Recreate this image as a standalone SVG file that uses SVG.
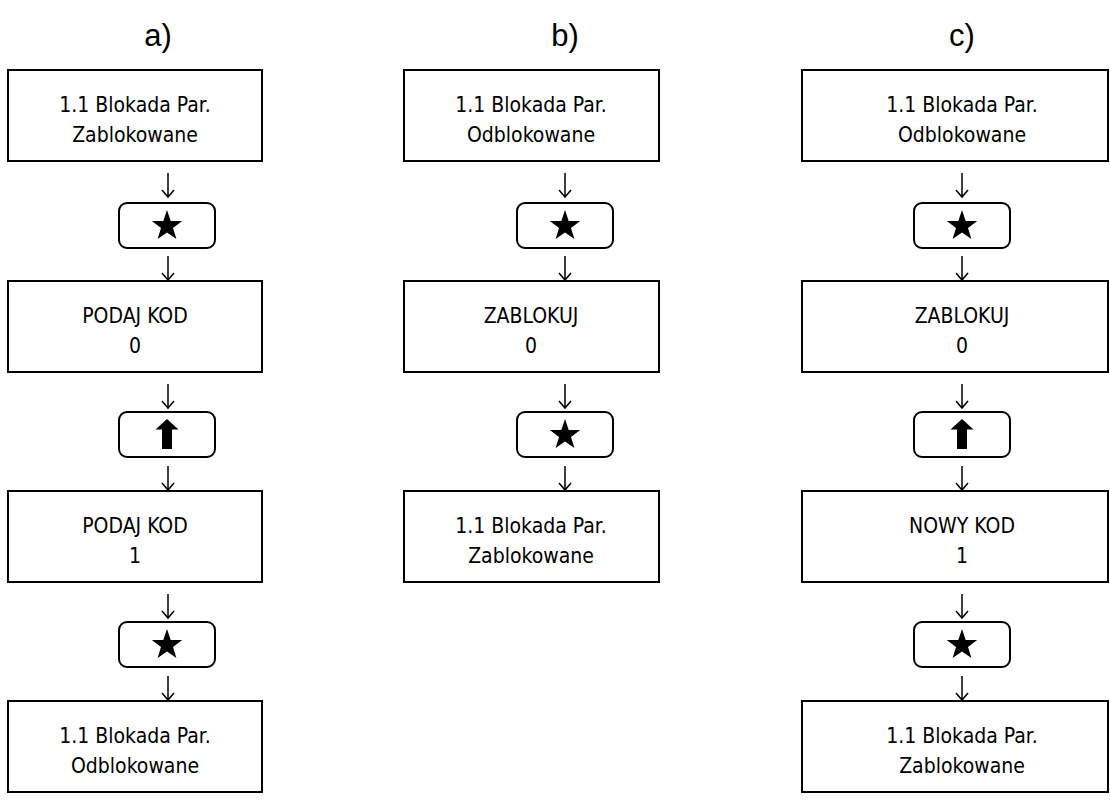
<svg xmlns="http://www.w3.org/2000/svg" width="1110" height="805" viewBox="0 0 1110 805">
<style>
.box{fill:#fff;stroke:#000;stroke-width:2}
.btn{fill:#fff;stroke:#000;stroke-width:2}
.t{font-family:"DejaVu Sans Condensed","DejaVu Sans",sans-serif;font-size:21px;text-anchor:middle;fill:#000}
.lab{font-family:"Liberation Sans",Arial,sans-serif;font-size:31px;text-anchor:middle;fill:#000}
.arr{fill:none;stroke:#000;stroke-width:1.5}
</style>
<defs>
<path id="star" d="M0,-16 L3.7,-5.1 L15.2,-4.9 L6,2 L9.4,13 L0,6.4 L-9.4,13 L-6,2 L-15.2,-4.9 L-3.7,-5.1 Z" fill="#000"/>
<path id="up" d="M0,-15 L11.5,-4.5 L5,-4.5 L5,15 L-5,15 L-5,-4.5 L-11.5,-4.5 Z" fill="#000"/>
<g id="dn"><path class="arr" d="M0,0 V24 M-6,17 L0,24 L6,17"/></g>
</defs>
<text class="lab" x="158" y="46">a)</text>
<text class="lab" x="565" y="46">b)</text>
<text class="lab" x="962" y="46">c)</text>

<g id="connectors">
<use href="#dn" x="168" y="173"/><use href="#dn" x="168" y="256"/>
<use href="#dn" x="168" y="384"/><use href="#dn" x="168" y="466"/>
<use href="#dn" x="168" y="594"/><use href="#dn" x="168" y="676"/>
<use href="#dn" x="565" y="173"/><use href="#dn" x="565" y="256"/>
<use href="#dn" x="565" y="384"/><use href="#dn" x="565" y="466"/>
<use href="#dn" x="962" y="173"/><use href="#dn" x="962" y="256"/>
<use href="#dn" x="962" y="384"/><use href="#dn" x="962" y="466"/>
<use href="#dn" x="962" y="594"/><use href="#dn" x="962" y="676"/>
</g>

<g id="a1"><rect class="box" x="8" y="70" width="254" height="91"/><text class="t" x="135" y="112">1.1 Blokada Par.</text><text class="t" x="135" y="142">Zablokowane</text></g>
<g id="a-k1"><rect class="btn" x="119" y="203" width="96" height="45" rx="8"/><use href="#star" x="167" y="226"/></g>
<g id="a2"><rect class="box" x="8" y="281" width="254" height="91"/><text class="t" x="135" y="323">PODAJ KOD</text><text class="t" x="135" y="353">0</text></g>
<g id="a-k2"><rect class="btn" x="119" y="412" width="96" height="45" rx="8"/><use href="#up" x="167" y="434"/></g>
<g id="a3"><rect class="box" x="8" y="491" width="254" height="91"/><text class="t" x="135" y="533">PODAJ KOD</text><text class="t" x="135" y="563">1</text></g>
<g id="a-k3"><rect class="btn" x="119" y="622" width="96" height="45" rx="8"/><use href="#star" x="167" y="645"/></g>
<g id="a4"><rect class="box" x="8" y="701" width="254" height="91"/><text class="t" x="135" y="743">1.1 Blokada Par.</text><text class="t" x="135" y="773">Odblokowane</text></g>

<g id="b1"><rect class="box" x="404" y="70" width="255" height="91"/><text class="t" x="531" y="112">1.1 Blokada Par.</text><text class="t" x="531" y="142">Odblokowane</text></g>
<g id="b-k1"><rect class="btn" x="517" y="203" width="96" height="45" rx="8"/><use href="#star" x="565" y="226"/></g>
<g id="b2"><rect class="box" x="404" y="281" width="255" height="91"/><text class="t" x="531" y="323">ZABLOKUJ</text><text class="t" x="531" y="353">0</text></g>
<g id="b-k2"><rect class="btn" x="517" y="412" width="96" height="45" rx="8"/><use href="#star" x="565" y="435"/></g>
<g id="b3"><rect class="box" x="404" y="491" width="255" height="91"/><text class="t" x="531" y="533">1.1 Blokada Par.</text><text class="t" x="531" y="563">Zablokowane</text></g>

<g id="c1"><rect class="box" x="802" y="70" width="306" height="91"/><text class="t" x="962" y="112">1.1 Blokada Par.</text><text class="t" x="962" y="142">Odblokowane</text></g>
<g id="c-k1"><rect class="btn" x="914" y="203" width="96" height="45" rx="8"/><use href="#star" x="962" y="226"/></g>
<g id="c2"><rect class="box" x="802" y="281" width="306" height="91"/><text class="t" x="962" y="323">ZABLOKUJ</text><text class="t" x="962" y="353">0</text></g>
<g id="c-k2"><rect class="btn" x="914" y="412" width="96" height="45" rx="8"/><use href="#up" x="962" y="434"/></g>
<g id="c3"><rect class="box" x="802" y="491" width="306" height="91"/><text class="t" x="962" y="533">NOWY KOD</text><text class="t" x="962" y="563">1</text></g>
<g id="c-k3"><rect class="btn" x="914" y="622" width="96" height="45" rx="8"/><use href="#star" x="962" y="645"/></g>
<g id="c4"><rect class="box" x="802" y="701" width="306" height="91"/><text class="t" x="962" y="743">1.1 Blokada Par.</text><text class="t" x="962" y="773">Zablokowane</text></g>
</svg>
